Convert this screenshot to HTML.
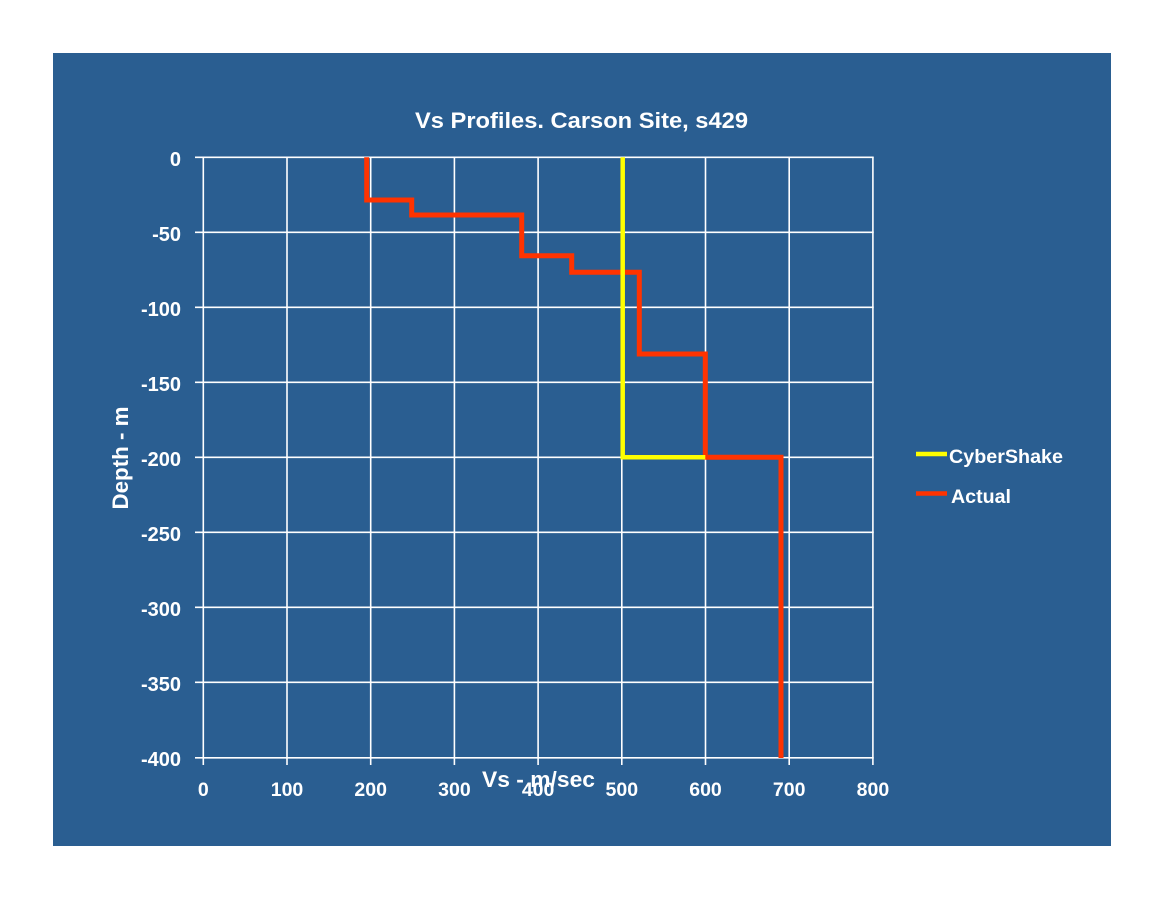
<!DOCTYPE html>
<html>
<head>
<meta charset="utf-8">
<style>
  html,body{margin:0;padding:0;background:#ffffff;}
  svg{display:block;}
  text{font-family:"Liberation Sans",Arial,sans-serif;font-weight:bold;fill:#ffffff;}
</style>
</head>
<body>
<svg width="1164" height="899" viewBox="0 0 1164 899" xmlns="http://www.w3.org/2000/svg">
  <rect x="0" y="0" width="1164" height="899" fill="#ffffff"/>
  <rect x="53" y="53" width="1058" height="793" fill="#2a5e91"/>

  <!-- title -->
  <text x="415" y="128" font-size="22" textLength="333" lengthAdjust="spacingAndGlyphs">Vs Profiles. Carson Site, s429</text>

  <!-- gridlines -->
  <g stroke="#ffffff" stroke-width="1.6" fill="none">
    <line x1="195" y1="157.3" x2="873.7" y2="157.3"/>
    <line x1="195" y1="232.3" x2="873.7" y2="232.3"/>
    <line x1="195" y1="307.3" x2="873.7" y2="307.3"/>
    <line x1="195" y1="382.3" x2="873.7" y2="382.3"/>
    <line x1="195" y1="457.3" x2="873.7" y2="457.3"/>
    <line x1="195" y1="532.3" x2="873.7" y2="532.3"/>
    <line x1="195" y1="607.3" x2="873.7" y2="607.3"/>
    <line x1="195" y1="682.3" x2="873.7" y2="682.3"/>
    <line x1="195" y1="757.8" x2="873.7" y2="757.8"/>
    <line x1="203.3" y1="157.3" x2="203.3" y2="765"/>
    <line x1="287.0" y1="157.3" x2="287.0" y2="765"/>
    <line x1="370.7" y1="157.3" x2="370.7" y2="765"/>
    <line x1="454.4" y1="157.3" x2="454.4" y2="765"/>
    <line x1="538.1" y1="157.3" x2="538.1" y2="765"/>
    <line x1="621.8" y1="157.3" x2="621.8" y2="765"/>
    <line x1="705.5" y1="157.3" x2="705.5" y2="765"/>
    <line x1="789.2" y1="157.3" x2="789.2" y2="765"/>
    <line x1="872.9" y1="157.3" x2="872.9" y2="765"/>
  </g>

  <!-- y tick labels -->
  <g font-size="20" text-anchor="end">
    <text x="181" y="166">0</text>
    <text x="181" y="241">-50</text>
    <text x="181" y="316">-100</text>
    <text x="181" y="391">-150</text>
    <text x="181" y="466">-200</text>
    <text x="181" y="541">-250</text>
    <text x="181" y="616">-300</text>
    <text x="181" y="691">-350</text>
    <text x="181" y="766">-400</text>
  </g>

  <!-- x tick labels -->
  <g font-size="19.5" text-anchor="middle">
    <text x="203.3" y="796">0</text>
    <text x="287.0" y="796">100</text>
    <text x="370.7" y="796">200</text>
    <text x="454.4" y="796">300</text>
    <text x="538.1" y="796">400</text>
    <text x="621.8" y="796">500</text>
    <text x="705.5" y="796">600</text>
    <text x="789.2" y="796">700</text>
    <text x="872.9" y="796">800</text>
  </g>

  <!-- axis titles -->
  <text x="482" y="787" font-size="22" textLength="113" lengthAdjust="spacingAndGlyphs">Vs - m/sec</text>
  <text transform="translate(128,458) rotate(-90)" x="0" y="0" font-size="22" text-anchor="middle" textLength="103" lengthAdjust="spacingAndGlyphs">Depth - m</text>

  <!-- Actual series -->
  <polyline fill="none" stroke="#ff3300" stroke-width="5" stroke-linejoin="miter"
    points="366.7,157.3 366.7,200 411.7,200 411.7,215 521.7,215 521.7,255.7 571.7,255.7 571.7,272.3 639.3,272.3 639.3,354 705.3,354 705.3,457.3 781,457.3 781,758"/>

  <!-- CyberShake series -->
  <polyline fill="none" stroke="#ffff00" stroke-width="4.5" stroke-linejoin="miter"
    points="622.7,157.3 622.7,457.3 705.3,457.3"/>

  <!-- legend -->
  <line x1="916" y1="454" x2="947" y2="454" stroke="#ffff00" stroke-width="4.5"/>
  <text x="949" y="463" font-size="19" textLength="114" lengthAdjust="spacingAndGlyphs">CyberShake</text>
  <line x1="916" y1="493.5" x2="947" y2="493.5" stroke="#ff3300" stroke-width="4.5"/>
  <text x="951" y="503" font-size="19" textLength="60" lengthAdjust="spacingAndGlyphs">Actual</text>
</svg>
</body>
</html>
